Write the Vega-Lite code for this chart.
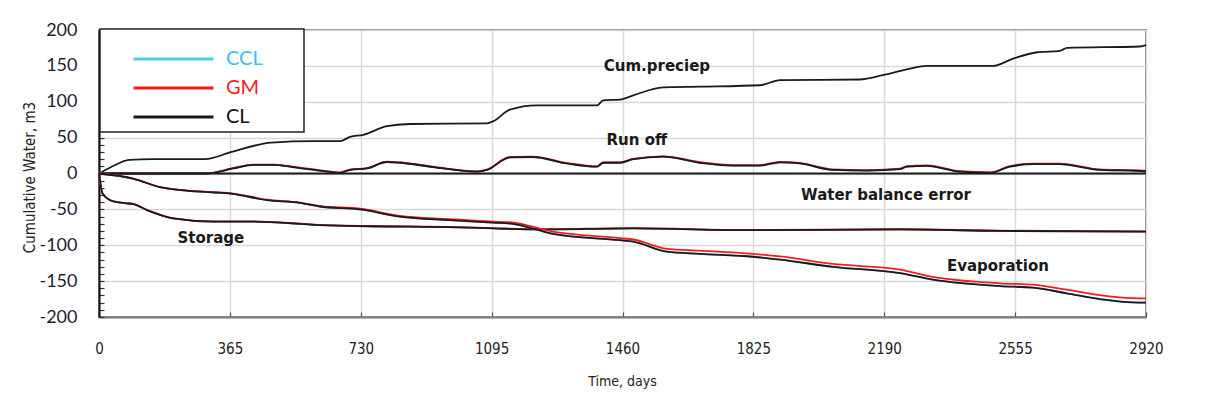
{
  "$schema": "https://vega.github.io/schema/vega-lite/v6.json",
  "width": 1047,
  "height": 287,
  "autosize": "none",
  "padding": {"left": 99, "top": 30, "right": 64, "bottom": 90},
  "background": "white",
  "config": {
    "view": {"stroke": "#8a8a8a", "strokeWidth": 2},
    "font": "Lato"
  },
  "encoding": {
    "x": {
      "field": "t",
      "type": "quantitative",
      "scale": {"domain": [0, 2920], "nice": false, "zero": false},
      "axis": {
        "values": [0, 365, 730, 1095, 1460, 1825, 2190, 2555, 2920],
        "format": "d",
        "title": "Time, days",
        "titleFont": "Liberation Sans Narrow, DejaVu Sans Condensed, Liberation Sans",
        "titleFontSize": 14,
        "titleFontWeight": "normal",
        "titleColor": "#222",
        "titleX": 523,
        "titleY": 64,
        "titleBaseline": "middle",
        "labelFont": "Liberation Sans Narrow, DejaVu Sans Condensed, Liberation Sans",
        "labelFontSize": 15,
        "labelColor": "#222",
        "labelPadding": 29,
        "labelFlush": false,
        "labelOverlap": false,
        "tickSize": -5,
        "tickColor": "#555",
        "tickWidth": 1.2,
        "domainColor": "#7a7a7a",
        "domainWidth": 2,
        "grid": true,
        "gridColor": "#d9d9d9",
        "gridWidth": 1.5
      }
    },
    "y": {
      "field": "water",
      "type": "quantitative",
      "scale": {"domain": [-200, 200], "nice": false},
      "axis": {
        "values": [-200, -190, -180, -170, -160, -150, -140, -130, -120, -110, -100, -90, -80, -70, -60, -50, -40, -30, -20, -10, 0, 10, 20, 30, 40, 50, 60, 70, 80, 90, 100, 110, 120, 130, 140, 150, 160, 170, 180, 190, 200],
        "labelExpr": "datum.value % 50 === 0 ? '' + datum.value : ''",
        "title": "Cumulative Water, m3",
        "titleFont": "Liberation Sans Narrow, DejaVu Sans Condensed, Liberation Sans",
        "titleFontSize": 15,
        "titleFontWeight": "normal",
        "titleColor": "#222",
        "titleX": -70,
        "titleY": 147,
        "titleBaseline": "middle",
        "titleAlign": "center",
        "titleAngle": -90,
        "labelFont": "Lato",
        "labelFontSize": 18,
        "labelColor": "#1e1e30",
        "labelPadding": 27,
        "labelOverlap": false,
        "labelFlush": false,
        "labelBound": false,
        "tickSize": -5,
        "tickColor": "#333",
        "tickWidth": 1.2,
        "domainColor": "#111",
        "domainWidth": 2,
        "grid": true,
        "gridColor": {"condition": {"test": "datum.value % 50 === 0", "value": "#d9d9d9"}, "value": "transparent"},
        "gridWidth": 1.5
      }
    }
  },
  "layer": [
    {
      "data": {
        "values": [
          {"t": 0, "comp": "Cum.preciep", "CCL": null, "GM": null, "CL": 0},
          {"t": 30, "comp": "Cum.preciep", "CCL": null, "GM": null, "CL": 8},
          {"t": 85, "comp": "Cum.preciep", "CCL": null, "GM": null, "CL": 19},
          {"t": 150, "comp": "Cum.preciep", "CCL": null, "GM": null, "CL": 20},
          {"t": 295, "comp": "Cum.preciep", "CCL": null, "GM": null, "CL": 20},
          {"t": 370, "comp": "Cum.preciep", "CCL": null, "GM": null, "CL": 30},
          {"t": 480, "comp": "Cum.preciep", "CCL": null, "GM": null, "CL": 43},
          {"t": 600, "comp": "Cum.preciep", "CCL": null, "GM": null, "CL": 45},
          {"t": 672, "comp": "Cum.preciep", "CCL": null, "GM": null, "CL": 45},
          {"t": 700, "comp": "Cum.preciep", "CCL": null, "GM": null, "CL": 51},
          {"t": 737, "comp": "Cum.preciep", "CCL": null, "GM": null, "CL": 54},
          {"t": 803, "comp": "Cum.preciep", "CCL": null, "GM": null, "CL": 66},
          {"t": 866, "comp": "Cum.preciep", "CCL": null, "GM": null, "CL": 69},
          {"t": 1082, "comp": "Cum.preciep", "CCL": null, "GM": null, "CL": 70},
          {"t": 1100, "comp": "Cum.preciep", "CCL": null, "GM": null, "CL": 73},
          {"t": 1146, "comp": "Cum.preciep", "CCL": null, "GM": null, "CL": 89},
          {"t": 1221, "comp": "Cum.preciep", "CCL": null, "GM": null, "CL": 95},
          {"t": 1389, "comp": "Cum.preciep", "CCL": null, "GM": null, "CL": 95},
          {"t": 1406, "comp": "Cum.preciep", "CCL": null, "GM": null, "CL": 102},
          {"t": 1453, "comp": "Cum.preciep", "CCL": null, "GM": null, "CL": 103},
          {"t": 1490, "comp": "Cum.preciep", "CCL": null, "GM": null, "CL": 109},
          {"t": 1573, "comp": "Cum.preciep", "CCL": null, "GM": null, "CL": 120},
          {"t": 1676, "comp": "Cum.preciep", "CCL": null, "GM": null, "CL": 121},
          {"t": 1843, "comp": "Cum.preciep", "CCL": null, "GM": null, "CL": 123},
          {"t": 1899, "comp": "Cum.preciep", "CCL": null, "GM": null, "CL": 130},
          {"t": 2122, "comp": "Cum.preciep", "CCL": null, "GM": null, "CL": 131},
          {"t": 2186, "comp": "Cum.preciep", "CCL": null, "GM": null, "CL": 137},
          {"t": 2253, "comp": "Cum.preciep", "CCL": null, "GM": null, "CL": 145},
          {"t": 2309, "comp": "Cum.preciep", "CCL": null, "GM": null, "CL": 150},
          {"t": 2493, "comp": "Cum.preciep", "CCL": null, "GM": null, "CL": 150},
          {"t": 2549, "comp": "Cum.preciep", "CCL": null, "GM": null, "CL": 160},
          {"t": 2616, "comp": "Cum.preciep", "CCL": null, "GM": null, "CL": 169},
          {"t": 2680, "comp": "Cum.preciep", "CCL": null, "GM": null, "CL": 171},
          {"t": 2700, "comp": "Cum.preciep", "CCL": null, "GM": null, "CL": 175},
          {"t": 2903, "comp": "Cum.preciep", "CCL": null, "GM": null, "CL": 177},
          {"t": 2920, "comp": "Cum.preciep", "CCL": null, "GM": null, "CL": 179},

          {"t": 0, "comp": "Run off", "CCL": 0, "GM": 0, "CL": 0},
          {"t": 300, "comp": "Run off", "CCL": 0, "GM": 0.3, "CL": 0},
          {"t": 374, "comp": "Run off", "CCL": 7, "GM": 7.5, "CL": 7},
          {"t": 430, "comp": "Run off", "CCL": 12, "GM": 12.5, "CL": 12},
          {"t": 486, "comp": "Run off", "CCL": 12, "GM": 12.5, "CL": 12},
          {"t": 540, "comp": "Run off", "CCL": 9, "GM": 9.5, "CL": 9},
          {"t": 616, "comp": "Run off", "CCL": 4, "GM": 4.5, "CL": 4},
          {"t": 672, "comp": "Run off", "CCL": 1, "GM": 1.5, "CL": 1},
          {"t": 700, "comp": "Run off", "CCL": 5, "GM": 5.5, "CL": 5},
          {"t": 747, "comp": "Run off", "CCL": 7, "GM": 7.5, "CL": 7},
          {"t": 803, "comp": "Run off", "CCL": 16, "GM": 16.5, "CL": 16},
          {"t": 840, "comp": "Run off", "CCL": 15, "GM": 15.5, "CL": 15},
          {"t": 931, "comp": "Run off", "CCL": 9, "GM": 9.5, "CL": 9},
          {"t": 1054, "comp": "Run off", "CCL": 2.5, "GM": 3, "CL": 2.5},
          {"t": 1082, "comp": "Run off", "CCL": 5, "GM": 5.5, "CL": 5},
          {"t": 1146, "comp": "Run off", "CCL": 22.5, "GM": 23, "CL": 22.5},
          {"t": 1210, "comp": "Run off", "CCL": 23, "GM": 23.5, "CL": 23},
          {"t": 1305, "comp": "Run off", "CCL": 14, "GM": 14.5, "CL": 14},
          {"t": 1389, "comp": "Run off", "CCL": 9.5, "GM": 10, "CL": 9.5},
          {"t": 1406, "comp": "Run off", "CCL": 15, "GM": 15.5, "CL": 15},
          {"t": 1453, "comp": "Run off", "CCL": 15, "GM": 15.5, "CL": 15},
          {"t": 1490, "comp": "Run off", "CCL": 20, "GM": 20.5, "CL": 20},
          {"t": 1573, "comp": "Run off", "CCL": 23.5, "GM": 24, "CL": 23.5},
          {"t": 1676, "comp": "Run off", "CCL": 15, "GM": 15.8, "CL": 15},
          {"t": 1768, "comp": "Run off", "CCL": 11, "GM": 11.8, "CL": 11},
          {"t": 1843, "comp": "Run off", "CCL": 11, "GM": 11.8, "CL": 11},
          {"t": 1899, "comp": "Run off", "CCL": 15.5, "GM": 16.3, "CL": 15.5},
          {"t": 1955, "comp": "Run off", "CCL": 14, "GM": 14.8, "CL": 14},
          {"t": 2047, "comp": "Run off", "CCL": 5, "GM": 5.8, "CL": 5},
          {"t": 2141, "comp": "Run off", "CCL": 4, "GM": 4.8, "CL": 4},
          {"t": 2234, "comp": "Run off", "CCL": 6, "GM": 6.8, "CL": 6},
          {"t": 2253, "comp": "Run off", "CCL": 9.5, "GM": 10.3, "CL": 9.5},
          {"t": 2309, "comp": "Run off", "CCL": 10.5, "GM": 11.3, "CL": 10.5},
          {"t": 2401, "comp": "Run off", "CCL": 2.5, "GM": 3.3, "CL": 2.5},
          {"t": 2485, "comp": "Run off", "CCL": 1, "GM": 1.8, "CL": 1},
          {"t": 2540, "comp": "Run off", "CCL": 9.5, "GM": 10.3, "CL": 9.5},
          {"t": 2605, "comp": "Run off", "CCL": 13, "GM": 13.8, "CL": 13},
          {"t": 2680, "comp": "Run off", "CCL": 13, "GM": 13.8, "CL": 13},
          {"t": 2791, "comp": "Run off", "CCL": 5, "GM": 5.8, "CL": 5},
          {"t": 2903, "comp": "Run off", "CCL": 3.5, "GM": 4.3, "CL": 3.5},
          {"t": 2920, "comp": "Run off", "CCL": 3, "GM": 3.8, "CL": 3},

          {"t": 0, "comp": "Water balance error", "CCL": null, "GM": null, "CL": 0},
          {"t": 2920, "comp": "Water balance error", "CCL": null, "GM": null, "CL": 0},

          {"t": 0, "comp": "Storage", "CCL": 0, "GM": 0, "CL": 0},
          {"t": 10, "comp": "Storage", "CCL": -28, "GM": -28, "CL": -28},
          {"t": 40, "comp": "Storage", "CCL": -39, "GM": -39, "CL": -39},
          {"t": 77, "comp": "Storage", "CCL": -41.5, "GM": -41.5, "CL": -41.5},
          {"t": 95, "comp": "Storage", "CCL": -42.5, "GM": -42.5, "CL": -42.5},
          {"t": 134, "comp": "Storage", "CCL": -51, "GM": -51, "CL": -51},
          {"t": 207, "comp": "Storage", "CCL": -62.5, "GM": -62.5, "CL": -62.5},
          {"t": 318, "comp": "Storage", "CCL": -67, "GM": -66.7, "CL": -67},
          {"t": 430, "comp": "Storage", "CCL": -67, "GM": -66.7, "CL": -67},
          {"t": 616, "comp": "Storage", "CCL": -72, "GM": -71.7, "CL": -72},
          {"t": 750, "comp": "Storage", "CCL": -73.5, "GM": -73.2, "CL": -73.5},
          {"t": 1000, "comp": "Storage", "CCL": -75, "GM": -74.7, "CL": -75},
          {"t": 1099, "comp": "Storage", "CCL": -76.5, "GM": -76.2, "CL": -76.5},
          {"t": 1230, "comp": "Storage", "CCL": -78, "GM": -77.7, "CL": -78},
          {"t": 1490, "comp": "Storage", "CCL": -76.5, "GM": -76.2, "CL": -76.5},
          {"t": 1815, "comp": "Storage", "CCL": -79, "GM": -78.7, "CL": -79},
          {"t": 2234, "comp": "Storage", "CCL": -78, "GM": -77.7, "CL": -78},
          {"t": 2513, "comp": "Storage", "CCL": -80, "GM": -79.7, "CL": -80},
          {"t": 2903, "comp": "Storage", "CCL": -81, "GM": -80.7, "CL": -81},
          {"t": 2920, "comp": "Storage", "CCL": -81, "GM": -80.7, "CL": -81},

          {"t": 0, "comp": "Evaporation", "CCL": 0, "GM": 0, "CL": 0},
          {"t": 95, "comp": "Evaporation", "CCL": -7, "GM": -7, "CL": -7},
          {"t": 170, "comp": "Evaporation", "CCL": -19, "GM": -19, "CL": -19},
          {"t": 245, "comp": "Evaporation", "CCL": -24, "GM": -24, "CL": -24},
          {"t": 374, "comp": "Evaporation", "CCL": -28.5, "GM": -28, "CL": -28.5},
          {"t": 468, "comp": "Evaporation", "CCL": -37, "GM": -36.5, "CL": -37},
          {"t": 560, "comp": "Evaporation", "CCL": -41, "GM": -40.5, "CL": -41},
          {"t": 616, "comp": "Evaporation", "CCL": -46, "GM": -45.5, "CL": -46},
          {"t": 728, "comp": "Evaporation", "CCL": -50, "GM": -49, "CL": -50},
          {"t": 839, "comp": "Evaporation", "CCL": -60, "GM": -59, "CL": -60},
          {"t": 979, "comp": "Evaporation", "CCL": -65, "GM": -63.5, "CL": -65},
          {"t": 1099, "comp": "Evaporation", "CCL": -68.5, "GM": -67, "CL": -68.5},
          {"t": 1150, "comp": "Evaporation", "CCL": -70, "GM": -68, "CL": -70},
          {"t": 1266, "comp": "Evaporation", "CCL": -84, "GM": -81, "CL": -84},
          {"t": 1453, "comp": "Evaporation", "CCL": -93, "GM": -90, "CL": -93},
          {"t": 1490, "comp": "Evaporation", "CCL": -95, "GM": -92, "CL": -95},
          {"t": 1584, "comp": "Evaporation", "CCL": -109, "GM": -105, "CL": -109},
          {"t": 1676, "comp": "Evaporation", "CCL": -112, "GM": -107.5, "CL": -112},
          {"t": 1824, "comp": "Evaporation", "CCL": -116, "GM": -112, "CL": -116},
          {"t": 1899, "comp": "Evaporation", "CCL": -120, "GM": -115.5, "CL": -120},
          {"t": 2047, "comp": "Evaporation", "CCL": -130, "GM": -126, "CL": -130},
          {"t": 2234, "comp": "Evaporation", "CCL": -139, "GM": -134, "CL": -139},
          {"t": 2326, "comp": "Evaporation", "CCL": -148, "GM": -144, "CL": -148},
          {"t": 2513, "comp": "Evaporation", "CCL": -157, "GM": -153, "CL": -157},
          {"t": 2605, "comp": "Evaporation", "CCL": -159, "GM": -155, "CL": -159},
          {"t": 2699, "comp": "Evaporation", "CCL": -167, "GM": -162, "CL": -167},
          {"t": 2791, "comp": "Evaporation", "CCL": -175, "GM": -169.5, "CL": -175},
          {"t": 2903, "comp": "Evaporation", "CCL": -180, "GM": -174, "CL": -180},
          {"t": 2920, "comp": "Evaporation", "CCL": -180, "GM": -174, "CL": -180}
        ]
      },
      "transform": [
        {"fold": ["CCL", "GM", "CL"], "as": ["model", "water"]},
        {"filter": "datum.water != null"}
      ],
      "mark": {"type": "line", "strokeWidth": 1.8, "interpolate": "monotone"},
      "encoding": {
        "color": {
          "field": "model",
          "type": "nominal",
          "scale": {"domain": ["CCL", "GM", "CL"], "range": ["#55c6ef", "#ff1a1a", "#1a1a1a"]},
          "legend": {
            "orient": "none",
            "legendX": 1,
            "legendY": -1,
            "title": " ",
            "titleFontSize": 10,
            "titlePadding": 7,
            "padding": 5,
            "strokeColor": "#222",
            "fillColor": "white",
            "symbolType": "stroke",
            "symbolSize": 6400,
            "symbolStrokeWidth": 3,
            "clipHeight": 16,
            "rowPadding": 9,
            "symbolOffset": 27,
            "labelOffset": 11,
            "labelFont": "Lato",
            "labelFontSize": 20,
            "labelExpr": "datum.label + '       \u200b'",
            "encode": {
              "legend": {"update": {"strokeWidth": {"value": 1.5}}},
              "labels": {
                "update": {
                  "fill": {"signal": "datum.value === 'CCL' ? '#3dbdf0' : datum.value === 'GM' ? '#ff1a1a' : '#111111'"}
                }
              }
            }
          }
        },
        "detail": {"field": "comp"}
      }
    },
    {
      "data": {
        "values": [
          {"t": 1556, "water": 150, "label": "Cum.preciep"},
          {"t": 1500, "water": 47, "label": "Run off"},
          {"t": 2195, "water": -30, "label": "Water balance error"},
          {"t": 312, "water": -90, "label": "Storage"},
          {"t": 2507, "water": -129, "label": "Evaporation"}
        ]
      },
      "mark": {"type": "text", "font": "DejaVu Sans", "fontWeight": "bold", "fontSize": 15, "color": "#1a1a1a", "align": "center", "baseline": "middle"},
      "encoding": {
        "text": {"field": "label"}
      }
    }
  ]
}
